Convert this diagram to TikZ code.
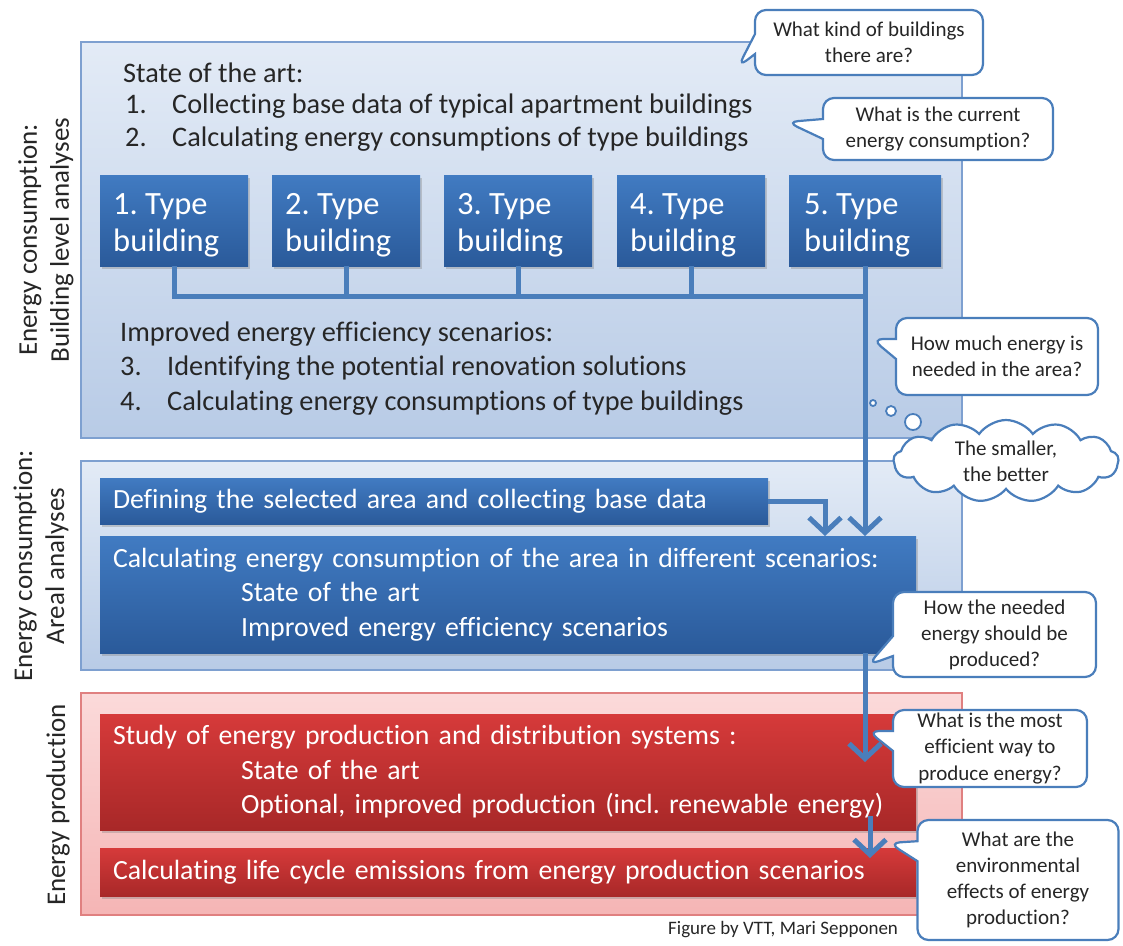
\documentclass[tikz,border=0pt]{standalone}
\usepackage{fontspec}
\setmainfont[Ligatures=NoCommon]{Carlito}
\usetikzlibrary{shapes.callouts,shapes.symbols,arrows.meta,shadows}

\definecolor{panelTop}{HTML}{E3EBF6}
\definecolor{panelBot}{HTML}{B8CBE6}
\definecolor{panelEdge}{HTML}{7EA0D0}
\definecolor{boxTop}{HTML}{417BC2}
\definecolor{boxBot}{HTML}{2A5A9A}
\definecolor{redTop}{HTML}{D63A3A}
\definecolor{redBot}{HTML}{A82828}
\definecolor{pinkTop}{HTML}{FBDADA}
\definecolor{pinkBot}{HTML}{F5B5B5}
\definecolor{pinkEdge}{HTML}{E08080}
\definecolor{flow}{HTML}{4A7EBB}
\definecolor{ink}{HTML}{262626}

\newcommand\mainfs{\fontsize{28.3}{34.5}\selectfont}
\newcommand\boxfs{\fontsize{27.8}{34.5}\selectfont}
\newcommand\typefs{\fontsize{32.5}{37}\selectfont}
\newcommand\notefs{\fontsize{21}{26}\selectfont}

\begin{document}
\frenchspacing
\begin{tikzpicture}[x=1pt,y=-1pt,
  panel/.style={draw=panelEdge, line width=1.3pt, top color=panelTop, bottom color=panelBot,
    anchor=north west, outer sep=0pt, inner sep=0pt},
  pinkpanel/.style={panel, draw=pinkEdge, top color=pinkTop, bottom color=pinkBot},
  darkbox/.style={draw=none, top color=boxTop, bottom color=boxBot, text=white,
    align=left, outer sep=0pt, font=\boxfs,
    drop shadow={opacity=0.35, shadow xshift=2pt, shadow yshift=-3pt}},
  typebox/.style={darkbox, minimum width=148pt, minimum height=91pt},
  typetext/.style={anchor=base west, inner sep=0pt, text=white, align=left, font=\typefs},
  redbox/.style={darkbox, top color=redTop, bottom color=redBot},
  plain/.style={anchor=base west, inner sep=0pt, text=ink, font=\mainfs},
  sidelabel/.style={rotate=90, align=center, text=ink, font=\fontsize{27}{32}\selectfont},
  conn/.style={draw=flow, line width=5pt},
  flowarrow/.style={conn, -{Straight Barb[length=15pt 0, width=32pt 0]}},
  note/.style={rectangle callout, draw=flow, line width=2.2pt, fill=white, rounded corners=11pt,
    align=center, text=ink, font=\notefs, callout pointer width=20pt},
  bubble/.style={circle, draw=flow, line width=1.8pt, fill=white, inner sep=0pt}
]
\useasboundingbox (0,0) rectangle (1123,945);

% --- three section panels
\node[panel, minimum width=881pt, minimum height=396pt] (pBuild) at (81,42) {};
\node[panel, minimum width=881pt, minimum height=209pt] (pArea) at (81,461) {};
\node[pinkpanel, minimum width=881pt, minimum height=222pt] (pProd) at (81,693) {};

% --- side labels
\node[sidelabel] (lBuild) at (46,240) {Energy consumption:\\Building level analyses};
\node[sidelabel] (lArea) at (41,566) {Energy consumption:\\Areal analyses};
\node[sidelabel] (lProd) at (58,805) {Energy production};

% --- building level texts
\node[plain] (sota) at (123,82) {State of the art:};
\node[plain] (n1) at (125,113) {1.};
\node[plain] (s1) at (172,113) {Collecting base data of typical apartment buildings};
\node[plain] (n2) at (125,146) {2.};
\node[plain] (s2) at (172,146) {Calculating energy consumptions of type buildings};
\node[plain] (impr) at (120,341) {Improved energy efficiency scenarios:};
\node[plain] (n3) at (120,375) {3.};
\node[plain] (s3) at (167,375) {Identifying the potential renovation solutions};
\node[plain] (n4) at (120,410) {4.};
\node[plain] (s4) at (167,410) {Calculating energy consumptions of type buildings};

% --- type buildings: box, then its two-line caption
\foreach \k/\cx/\w in {1/174/148, 2/346/148, 3/518/148, 4/691/148, 5/865/152} {
  \node[typebox, minimum width=\w pt] (t\k) at (\cx,220.5) {};
  \node[typetext] (tt\k) at (\cx-61,214) {\k. Type};
  \node[typetext] (tb\k) at (\cx-61,251) {building};
}

% --- areal boxes
\node[darkbox, minimum width=668pt, minimum height=46pt, text width=642pt] (def) at (434,501)
  {Defining the selected area and collecting base data};
\node[darkbox, minimum width=816pt, minimum height=117pt, text width=790pt] (calc) at (508,594.5)
  {Calculating energy consumption of the area in different scenarios:\\
   \hspace*{128pt}State of the art\\
   \hspace*{128pt}Improved energy efficiency scenarios};

% --- production boxes
\node[redbox, minimum width=816pt, minimum height=116pt, text width=790pt] (study) at (508,772)
  {Study of energy production and distribution systems :\\
   \hspace*{128pt}State of the art\\
   \hspace*{128pt}Optional, improved production (incl. renewable energy)};
\node[redbox, minimum width=816pt, minimum height=48pt, text width=790pt] (life) at (508,872)
  {Calculating life cycle emissions from energy production scenarios};

% --- connectors
\coordinate (bus) at (0,296);
\coordinate (defTip) at (825,536);
\coordinate (prodTip) at (865,762);
\coordinate (lifeStart) at (870,816);
\coordinate (lifeTip) at (870,858);
\draw[conn, line cap=butt] (t1.south) -- (t1.south |- bus) -- (t5.south |- bus);
\foreach \t in {t2,t3,t4} \draw[conn] (\t.south) -- (\t.south |- bus);
\draw[flowarrow] (t5.south) -- (t5.south |- calc.north);
\draw[flowarrow] (def.east) -| (defTip);
\draw[flowarrow] (prodTip |- calc.south) -- (prodTip);
\draw[flowarrow] (lifeStart) -- (lifeTip);

% --- questions
\node[note, minimum width=228pt, minimum height=65pt, callout absolute pointer={(738,67)}] (q1) at (869,42.5)
  {What kind of buildings\\there are?};
\node[note, minimum width=230pt, minimum height=62pt, callout absolute pointer={(787,122)}] (q2) at (938,129)
  {What is the current\\energy consumption?};
\node[note, minimum width=202pt, minimum height=77pt, callout absolute pointer={(872,339)}] (q3) at (997,356.5)
  {How much energy is\\needed in the area?};
\node[bubble, minimum size=6pt] (b1) at (873,403) {};
\node[bubble, minimum size=10pt] (b2) at (891,411) {};
\node[bubble, minimum size=16pt] (b3) at (913,422) {};
\node[cloud, cloud puffs=13, cloud puff arc=110, aspect=2.8, draw=flow, line width=2.2pt, fill=white,
  minimum width=225pt, minimum height=82pt, align=center, text=ink, font=\notefs, inner sep=0pt] (cl) at (1006,461)
  {The smaller,\\the better};
\node[note, minimum width=203pt, minimum height=85pt, callout absolute pointer={(868,665)}] (q4) at (994.5,634.5)
  {How the needed\\energy should be\\produced?};
\node[note, minimum width=194pt, minimum height=77pt, callout absolute pointer={(868,731)}] (q5) at (990,748.5)
  {What is the most\\efficient way to\\produce energy?};
\node[note, minimum width=201pt, minimum height=120pt, callout absolute pointer={(889,843)}] (q6) at (1018,880)
  {What are the\\environmental\\effects of energy\\production?};

% --- credit line
\node[anchor=base west, inner sep=0pt, text=ink, font=\fontsize{19}{22}\selectfont] (credit) at (668,934)
  {Figure by VTT, Mari Sepponen};
\end{tikzpicture}
\end{document}
